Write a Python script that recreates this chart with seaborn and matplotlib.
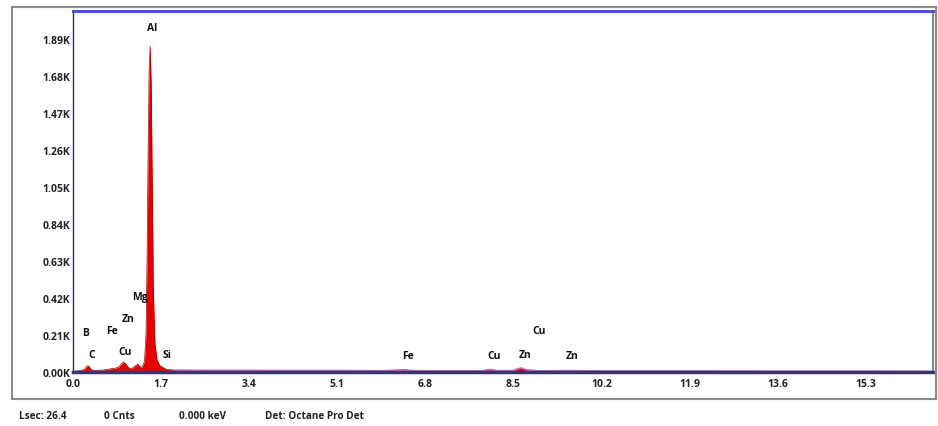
import matplotlib
matplotlib.use("Agg")
import matplotlib.pyplot as plt
import seaborn as sns
import pandas as pd
from matplotlib.patches import Rectangle

# EDS spectrum (keV, counts)
energy_kev = [0.00, 0.05, 0.15, 0.22, 0.26, 0.29, 0.32, 0.36, 0.45, 0.55, 0.65,
              0.72, 0.80, 0.88, 0.93, 0.98, 1.02, 1.08, 1.14, 1.20, 1.25, 1.29,
              1.33, 1.38, 1.41, 1.43, 1.45, 1.47, 1.49, 1.51, 1.53, 1.55, 1.58,
              1.62, 1.68, 1.74, 1.80, 2.00, 2.60, 3.40, 4.20, 5.10, 6.00, 6.40,
              6.60, 7.40, 7.90, 8.04, 8.20, 8.50, 8.60, 8.66, 8.75, 9.00, 9.57,
              10.2, 11.9, 13.6, 15.3, 16.6]
counts = [0, 5, 8, 15, 30, 36, 28, 12, 8, 10, 14,
          18, 20, 28, 45, 57, 45, 22, 20, 35, 45, 30,
          25, 60, 220, 650, 1250, 1720, 1850, 1620, 1050, 480, 170,
          70, 35, 25, 15, 10, 9, 9, 8, 8, 7, 12,
          7, 6, 7, 14, 7, 8, 20, 22, 12, 6, 8,
          5, 5, 4, 4, 3]

# element labels and where they sit (keV, counts)
label_text = ["Al", "Mg", "Zn", "Fe", "B", "C", "Cu", "Si", "Fe", "Cu", "Zn", "Cu", "Zn"]
label_kev = [1.52, 1.29, 1.06, 0.75, 0.25, 0.37, 1.00, 1.81, 6.47, 8.12, 8.72, 8.99, 9.63]
label_counts = [1958, 426, 301, 233, 227, 102, 114, 102, 91, 91, 102, 233, 91]

x_ticks = [0.0, 1.7, 3.4, 5.1, 6.8, 8.5, 10.2, 11.9, 13.6, 15.3]
y_ticks = [0, 210, 420, 630, 840, 1050, 1260, 1470, 1680, 1890]

status_text = ["Lsec: 26.4", "0 Cnts", "0.000 keV", "Det: Octane Pro Det"]

sns.set_style("white")
plt.rcParams['font.family'] = ['Open Sans', 'DejaVu Sans']

df = pd.DataFrame({"keV": energy_kev, "counts": counts})

fig = plt.figure(figsize=(9.38, 4.27), dpi=100)
# grey outer frame of the software window
fig.patches.append(Rectangle((0.0128, 0.063), 0.985, 0.918, transform=fig.transFigure,
                             fill=False, edgecolor="#8a8a8a", linewidth=1.5))
ax = fig.add_axes([0.0778, 0.1265, 0.917, 0.8454])

ax.fill_between(df["keV"], 0, df["counts"], color="#e60000", linewidth=0)
sns.lineplot(data=df, x="keV", y="counts", ax=ax, color="#a00000", linewidth=0.5)
bg = df[df["keV"] > 1.8]
sns.lineplot(data=bg, x="keV", y="counts", ax=ax, color="#cc66cc", linewidth=1.2)

for t, xk, yc in zip(label_text, label_kev, label_counts):
    ax.text(xk, yc, t, ha="center", va="center", fontsize=7.5, fontweight="bold", color="#111111")

ax.set_xlim(0, 16.6)
ax.set_ylim(0, 2050)
ax.set_xticks(x_ticks)
ax.set_xticklabels([f"{v:.1f}" for v in x_ticks])
ax.set_yticks(y_ticks)
ax.set_yticklabels([f"{v / 1000:.2f}K" for v in y_ticks])
ax.tick_params(axis="y", length=0, pad=2, labelsize=7.5)
ax.tick_params(axis="x", length=0, pad=4, labelsize=7.5)
for lbl in ax.get_xticklabels() + ax.get_yticklabels():
    lbl.set_fontweight("bold")
    lbl.set_color("#222222")
ax.set_xlabel("")
ax.set_ylabel("")

ax.spines["left"].set_color("#2a2a80")
ax.spines["left"].set_linewidth(1.0)
ax.spines["top"].set_color("#5050c8")
ax.spines["top"].set_linewidth(2.2)
ax.spines["bottom"].set_color("#3a3468")
ax.spines["bottom"].set_linewidth(2.5)
ax.spines["right"].set_color("#8a8a8a")
ax.spines["right"].set_linewidth(1.5)

status_x = [0.046, 0.127, 0.216, 0.283]
status_ha = ["center", "center", "center", "left"]
for t, sx, ha in zip(status_text, status_x, status_ha):
    fig.text(sx, 0.024, t, ha=ha, va="center", fontsize=7.2, fontweight="bold", color="#222222")

fig.savefig("out.png", dpi=100, facecolor="white")
